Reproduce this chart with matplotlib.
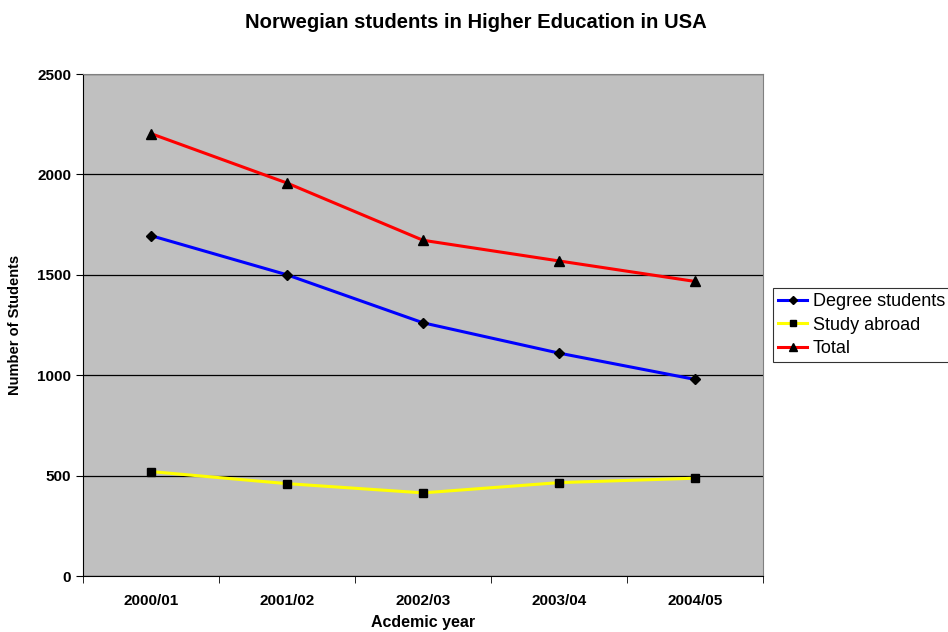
import matplotlib.pyplot as plt
import numpy as np

plt.rcParams['font.family'] = ['Liberation Sans', 'DejaVu Sans']

# data
years = ["2000/01", "2001/02", "2002/03", "2003/04", "2004/05"]
degree_students = [1695, 1500, 1261, 1110, 979]
study_abroad = [520, 460, 414, 465, 487]
total = [2203, 1957, 1672, 1569, 1467]
y_ticks = [0, 500, 1000, 1500, 2000, 2500]

fig = plt.figure(figsize=(9.48, 6.32), dpi=100)
ax = fig.add_axes([83 / 948, 56 / 632, 680 / 948, 502 / 632])
ax.set_facecolor("#c0c0c0")

x = np.arange(len(years))
ax.plot(x, degree_students, color="#0000ff", lw=2.2, marker="D", ms=5,
        mfc="black", mec="black", label="Degree students", zorder=3)
ax.plot(x, study_abroad, color="#ffff00", lw=2.2, marker="s", ms=6,
        mfc="black", mec="black", label="Study abroad", zorder=3)
ax.plot(x, total, color="#ff0000", lw=2.2, marker="^", ms=7,
        mfc="black", mec="black", label="Total", zorder=3)

ax.set_xlim(-0.5, len(years) - 0.5)
ax.set_ylim(0, 2500)
ax.set_yticks(y_ticks)
ax.yaxis.grid(True, color="black", lw=0.9)
ax.set_axisbelow(True)

# category labels centred, ticks at the boundaries
ax.set_xticks(x)
ax.set_xticklabels(years, fontsize=11, fontweight="bold")
ax.set_xticks(np.arange(len(years) + 1) - 0.5, minor=True)
ax.tick_params(axis="x", which="major", length=0, pad=13)
ax.tick_params(axis="x", which="minor", length=5, direction="out", color="black")
ax.tick_params(axis="y", length=5, direction="out", labelsize=11, color="black")
for lab in ax.get_yticklabels():
    lab.set_fontweight("bold")

for side in ["top", "right"]:
    ax.spines[side].set_color("#808080")
for side in ["left", "bottom"]:
    ax.spines[side].set_color("black")

ax.set_xlabel("Acdemic year", fontsize=11.5, fontweight="bold")
ax.xaxis.set_label_coords(0.5, -0.078)
ax.set_ylabel("Number of Students", fontsize=10.5, fontweight="bold")
ax.yaxis.set_label_coords(-0.09, 0.5)
fig.text(476 / 948, 1 - 23 / 632, "Norwegian students in Higher Education in USA",
         ha="center", va="center", fontsize=14.6, fontweight="bold")

leg = fig.legend(loc="upper left", bbox_to_anchor=(773 / 948, 1 - 288 / 632),
                 fontsize=13, frameon=True, fancybox=False, handlelength=1.6,
                 handletextpad=0.3, borderpad=0.3, labelspacing=0.35,
                 borderaxespad=0, markerscale=0.8)
leg.get_frame().set_edgecolor("black")
leg.get_frame().set_linewidth(0.8)

fig.savefig("out.png", dpi=100)
